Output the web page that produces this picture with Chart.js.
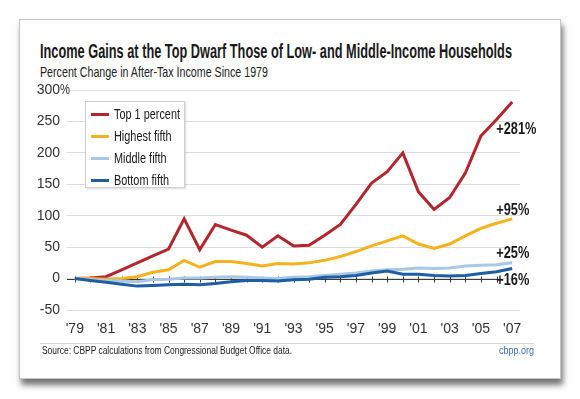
<!DOCTYPE html>
<html>
<head>
<meta charset="utf-8">
<script src="https://cdn.jsdelivr.net/npm/chart.js@4/dist/chart.umd.min.js"></script>
<style>
  html, body { margin: 0; padding: 0; background: #fff; }
  body { width: 580px; height: 399px; position: relative; overflow: hidden;
         font-family: 'Liberation Sans', 'Roboto', sans-serif; }
  .card { position: absolute; left: 19px; top: 19px; width: 540px; height: 358px;
          border: 1px solid #c4c4c4; background: #fff;
          box-shadow: 2px 6px 6px rgba(0,0,0,0.55); }
  .fit { position: absolute; white-space: nowrap; transform-origin: 0 50%; }
  .title { left: 40px; top: 40px; font-size: 19.5px; font-weight: bold; color: #1a1a1a; }
  .subtitle { left: 40px; top: 64px; font-size: 14.5px; color: #222; }
  .rule { position: absolute; left: 40px; top: 343px; width: 494px; height: 1px; background: #d8d8d8; }
  .source { left: 42px; top: 345px; font-size: 10px; color: #222; }
  .site { left: 499px; top: 344px; font-size: 11px; color: #3a72b5; }
  #wrap { position: absolute; left: 0; top: 0; width: 580px; height: 399px; }
  .legend { position: absolute; left: 85px; top: 101px; width: 100px; height: 87px;
            border: 1px solid #cfcfcf; background: #fff; box-shadow: 1px 1px 2px rgba(0,0,0,0.15);
            box-sizing: border-box; padding: 1px 0 0 5px; }
  .legend div { height: 22px; line-height: 22px; white-space: nowrap; position: relative; }
  .legend span.sw { position: absolute; left: 0; top: 10px; width: 18px; height: 3px; }
  .legend span.tx { position: absolute; left: 23px; top: 0; font-size: 15.5px; color: #1a1a1a;
                    transform-origin: 0 50%; }
</style>
</head>
<body>
<div class="card"></div>
<div class="fit title" id="title">Income Gains at the Top Dwarf Those of Low- and Middle-Income Households</div>
<div class="fit subtitle" id="subtitle">Percent Change in After-Tax Income Since 1979</div>
<div id="wrap"><canvas id="myChart" width="580" height="399"></canvas></div>
<div class="legend" id="legend"></div>
<div class="rule"></div>
<div class="fit source" id="source">Source: CBPP calculations from Congressional Budget Office data.</div>
<div class="fit site" id="site">cbpp.org</div>
<script>
const years = [1979, 1980, 1981, 1982, 1983, 1984, 1985, 1986, 1987, 1988, 1989, 1990, 1991, 1992, 1993,
               1994, 1995, 1996, 1997, 1998, 1999, 2000, 2001, 2002, 2003, 2004, 2005, 2006, 2007];
const top1 = [0, 1, 3, 14, 25, 36, 47, 95, 46, 86, 77, 69, 50, 68, 52,
              53, 69, 86, 118, 152, 170, 200, 138, 110, 129, 168, 227, 253, 281];
const highestFifth = [0, 0, -1, 0, 3, 10, 14, 29, 18, 27, 27, 24, 20, 24, 23,
                      25, 29, 35, 43, 52, 60, 68, 55, 48, 55, 68, 80, 88, 95];
const middleFifth = [0, -2, -3, -4, -5, -2, -1, 1, 1, 2, 3, 2, 1, 0, 2,
                     3, 5, 7, 9, 12, 14, 15, 17, 16, 17, 20, 21, 22, 25];
const bottomFifth = [0, -3, -6, -9, -12, -11, -10, -9, -10, -8, -5, -3, -3, -4, -2,
                     -1, 2, 3, 5, 9, 12, 7, 7, 5, 4, 5, 8, 11, 16];
const seriesNames = ['Top 1 percent', 'Highest fifth', 'Middle fifth', 'Bottom fifth'];
const seriesColors = ['#b3262e', '#f4b31c', '#a9c8e6', '#1d5ea4'];
const yTicks = [-50, 0, 50, 100, 150, 200, 250, 300];

const FONT = "'Liberation Sans', 'Roboto', sans-serif";
const allData = [top1, highestFifth, middleFifth, bottomFifth];
const endOffsets = [28, -8, -9, 12]; // label shift from the line end

// squeeze html text to the condensed widths of the original
function fit(id, w) {
  const el = document.getElementById(id);
  el.style.transform = `scaleX(${w / el.getBoundingClientRect().width})`;
}
fit('title', 472);
fit('subtitle', 228);
fit('source', 250);
fit('site', 35);

// legend as html
document.getElementById('legend').innerHTML = seriesNames.map((n, i) =>
  `<div><span class="sw" style="background:${seriesColors[i]}"></span><span class="tx">${n}</span></div>`).join('');
const firstTx = document.querySelector('.legend .tx');
const legScale = 66 / firstTx.getBoundingClientRect().width;
document.querySelectorAll('.legend .tx').forEach(el => {
  el.style.transform = `scaleX(${legScale})`;
});

// zero line ticks + end labels
const extras = {
  id: 'extras',
  beforeDatasetsDraw(chart) {
    const { ctx, scales: { x, y }, chartArea } = chart;
    const y0 = Math.round(y.getPixelForValue(0)) + 0.5;
    ctx.save();
    ctx.strokeStyle = '#3a3a3a';
    ctx.lineWidth = 1;
    ctx.beginPath();
    ctx.moveTo(chartArea.left, y0);
    ctx.lineTo(x.getPixelForValue(years.length - 1) - 12, y0);
    years.forEach((yr, i) => {
      if (i === years.length - 1) return;
      const px = Math.round(x.getPixelForValue(i)) + 0.5;
      ctx.moveTo(px, y0 - 3);
      ctx.lineTo(px, y0 + 3);
    });
    ctx.stroke();
    ctx.restore();
  },
  afterDatasetsDraw(chart) {
    const { ctx, scales: { x, y } } = chart;
    ctx.save();
    ctx.font = 'bold 16px ' + FONT;
    ctx.fillStyle = '#1a1a1a';
    ctx.textBaseline = 'middle';
    ctx.textAlign = 'left';
    allData.forEach((d, i) => {
      const last = d[d.length - 1];
      const txt = '+' + last + '%';
      const px = x.getPixelForValue(d.length - 1) - 16;
      const py = y.getPixelForValue(last) + endOffsets[i];
      const w = ctx.measureText(txt).width * 0.8;
      ctx.fillText(txt, px, py, w);
    });
    // percent sign on top tick
    ctx.font = '14px ' + FONT;
    ctx.fillStyle = '#333';
    ctx.fillText('%', chart.chartArea.left - 7, y.getPixelForValue(300), 10);
    ctx.restore();
  }
};

const ctx = document.getElementById('myChart').getContext('2d');
const myChart = new Chart(ctx, {
  type: 'line',
  data: {
    labels: years,
    datasets: allData.map((d, i) => ({
      label: seriesNames[i],
      data: d,
      borderColor: seriesColors[i],
      borderWidth: 3,
      pointRadius: 0,
      tension: 0,
      fill: false
    })).reverse()
  },
  options: {
    responsive: false,
    animation: false,
    layout: { padding: { left: 0, right: 60, top: 90, bottom: 0 } },
    plugins: { legend: { display: false }, tooltip: { enabled: false } },
    scales: {
      x: {
        type: 'category',
        offset: true,
        afterFit: s => { s.height = 89; },
        grid: { display: false },
        border: { display: false },
        ticks: {
          autoSkip: false,
          maxRotation: 0,
          padding: 3,
          color: '#333',
          font: { family: FONT, size: 14 },
          callback: (v, i) => (years[i] % 2 === 1 ? "'" + String(years[i]).slice(2) : '')
        }
      },
      y: {
        min: -50,
        max: 300,
        afterFit: s => { s.width = 67; },
        afterBuildTicks: s => { s.ticks = yTicks.map(v => ({ value: v })); },
        grid: { color: '#dcdcdc', lineWidth: 1, drawTicks: false },
        border: { display: false },
        ticks: {
          padding: 7,
          color: '#333',
          font: { family: FONT, size: 14 }
        }
      }
    }
  },
  plugins: [extras]
});
</script>
</body>
</html>
